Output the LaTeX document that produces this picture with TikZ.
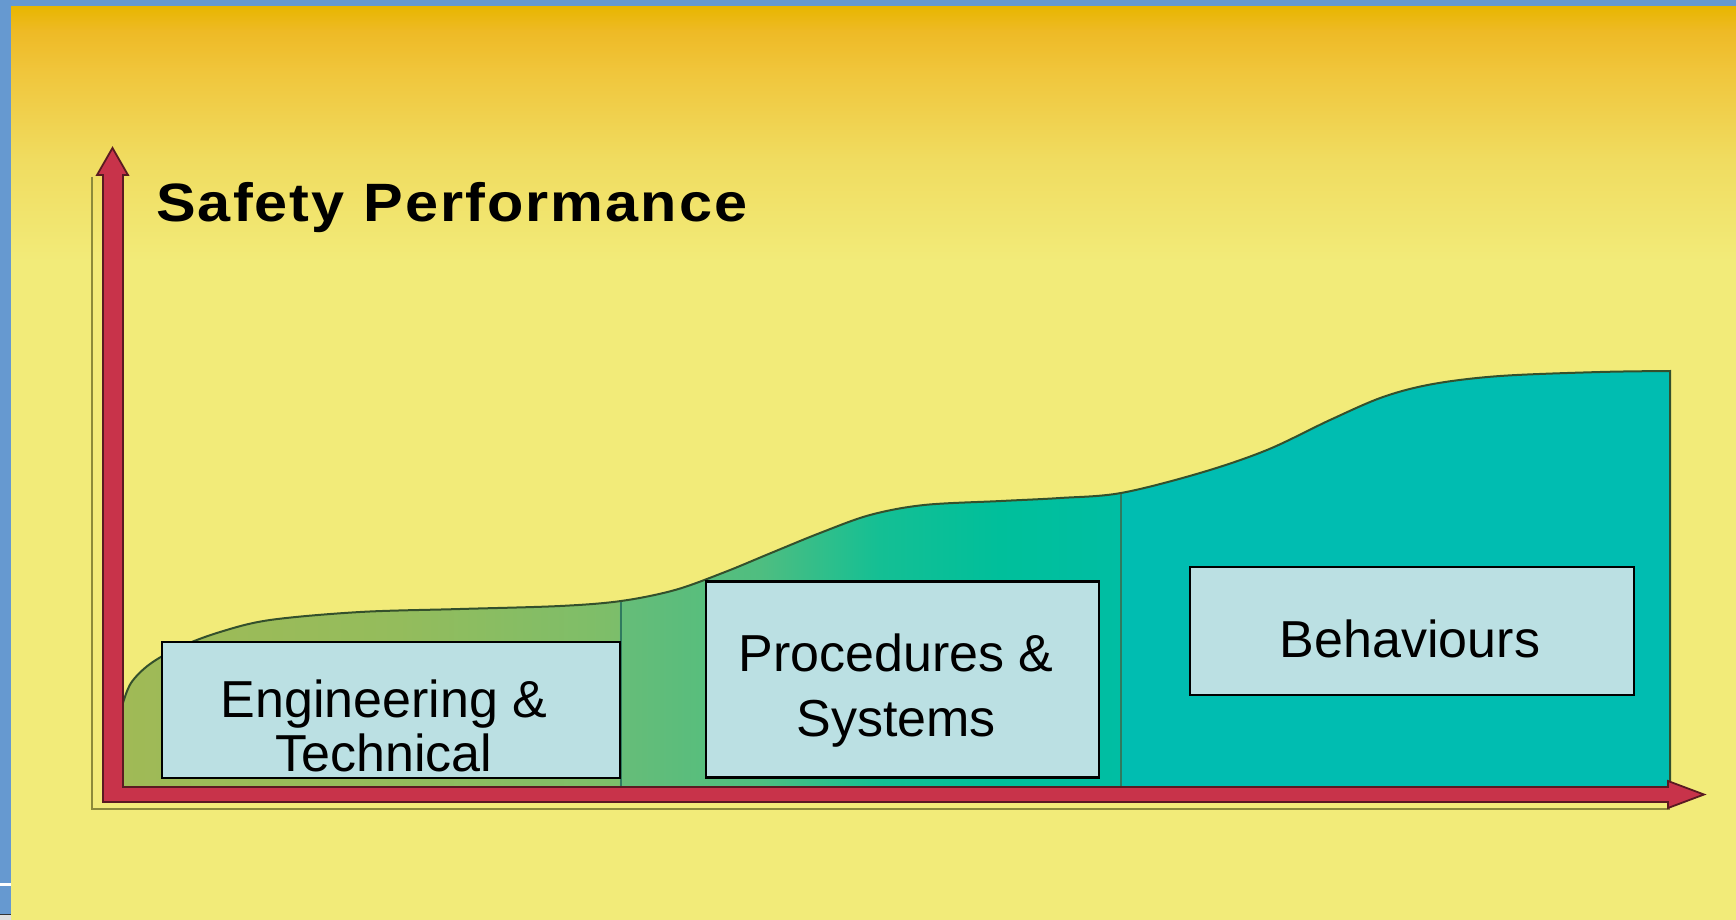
\documentclass[tikz,border=0pt]{standalone}
\usepackage{fontspec}
\setmainfont{Liberation Sans}
\newfontfamily\titlefont[LetterSpace=3.5]{Liberation Sans}
\definecolor{bgyellow}{HTML}{F2EB79}
\definecolor{ya}{HTML}{F0DC60}
\definecolor{yb}{HTML}{F0C63C}
\definecolor{yc}{HTML}{EEBA26}
\definecolor{yd}{HTML}{E8B600}
\definecolor{bluebar}{HTML}{6699D0}
\definecolor{axisred}{HTML}{C8334A}
\definecolor{axisdark}{HTML}{5A1A22}
\definecolor{boxfill}{HTML}{BBE0E3}
\definecolor{oliveline}{HTML}{8C8A3A}
\definecolor{curvecol}{HTML}{34502C}
\definecolor{dividercol}{HTML}{2F7A5F}
\definecolor{g0}{HTML}{A0BA56}
\definecolor{g1}{HTML}{94BC5C}
\definecolor{g2}{HTML}{7CBE6A}
\definecolor{g3}{HTML}{66BD78}
\definecolor{g4}{HTML}{4FBE80}
\definecolor{g5}{HTML}{14BF94}
\definecolor{g6}{HTML}{00BF9B}
\definecolor{g7}{HTML}{00BEA3}
\definecolor{g8}{HTML}{00BDB1}
\pgfdeclareverticalshading{bgshade}{100bp}{color(0bp)=(bgyellow); color(25bp)=(bgyellow); color(45bp)=(ya); color(62bp)=(yb); color(70bp)=(yc); color(75bp)=(yd); color(100bp)=(yd)}
\pgfdeclarehorizontalshading{greenshade}{100bp}{color(0bp)=(g0); color(25bp)=(g0); color(33.95bp)=(g1); color(41.06bp)=(g2); color(41.13bp)=(g3); color(45.59bp)=(g4); color(49.47bp)=(g5); color(53.34bp)=(g6); color(57.22bp)=(g7); color(57.29bp)=(g8); color(75bp)=(g8); color(100bp)=(g8)}
\tikzset{
  labelbox/.style={draw=black, line width=2.2, fill=boxfill, inner sep=0, rectangle},
  labeltext/.style={inner sep=0, align=center, text=black},
  axisarrow/.style={fill=axisred, draw=axisdark, line width=1.8, line join=miter},
  dividerline/.style={draw=dividercol, line width=1.6},
}
\begin{document}
\begin{tikzpicture}[x=1pt,y=-1pt]
\useasboundingbox (0,0) rectangle (1736,920);
% background
\fill[bgyellow] (0,0) rectangle (1736,920);
\shade[shading=bgshade] (0,6) rectangle (1736,262);
\fill[bluebar] (0,0) rectangle (1736,6);
\fill[bluebar] (0,0) rectangle (11,920);
\fill[white] (0,883) rectangle (11,886);
\fill[black!80] (0,913.5) rectangle (11,915);
\fill[gray!25] (0,915) rectangle (11,920);
% thin frame line
\draw[oliveline, line width=1.6] (92,177) -- (92,809) -- (1670,809);
% performance area
\shadedraw[shading=greenshade, draw=curvecol, line width=2] (121,792) -- (121,710) -- plot[smooth, tension=0.55] coordinates {(122,706) (131,683) (150,664) (180,647) (220,632) (270,620) (360,612) (460,609) (560,606) (621,601) (675,590) (725,572) (771,553) (820,533) (870,515) (924,505) (1001,501) (1060,498) (1121,493) (1200,473) (1267,450) (1330,420) (1383,397) (1433,384) (1500,376) (1600,372) (1670,371)} -- (1670,792) -- cycle;
\draw[dividerline] (621,788) -- (621,602);
\draw[dividerline] (1121,788) -- (1121,494);
% axes
\filldraw[axisarrow] (103,802) -- (103,175) -- (97,175) -- (112.5,148) -- (128,175) -- (123,175) -- (123,787) -- (1668,787) -- (1668,781) -- (1704,794.5) -- (1668,808) -- (1668,802) -- cycle;
% title
\node[inner sep=0, anchor=base west, font=\titlefont\bfseries\fontsize{54}{60}\selectfont] (title) at (156,221) {\scalebox{1.1}[1]{Safety Performance}};
% boxes
\node[labelbox, minimum width=458, minimum height=136] (engbox) at (391,710) {};
\node[labelbox, minimum width=393, minimum height=196] (procbox) at (902.5,679.5) {};
\node[labelbox, minimum width=444, minimum height=128] (behbox) at (1412,631) {};
\node[labeltext, anchor=north, font=\fontsize{52}{54}\selectfont] (engtext) at (384,680) {Engineering \&\\Technical};
\node[labeltext, anchor=north, font=\fontsize{52}{65}\selectfont] (proctext) at (896,634) {Procedures \&\\Systems};
\node[labeltext, anchor=north, font=\fontsize{52}{60}\selectfont] (behtext) at (1410,620) {Behaviours};
\end{tikzpicture}
\end{document}
